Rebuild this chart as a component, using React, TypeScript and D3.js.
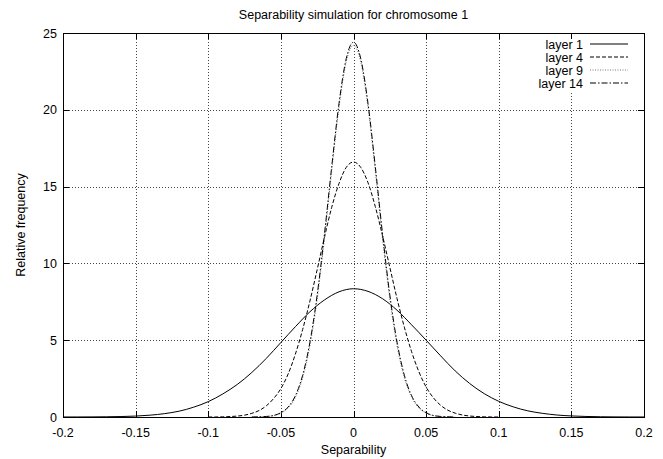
import React from "react";
import * as d3 from "d3";

const W = 663;
const H = 459;
const M = { left: 63, right: 644, top: 33, bottom: 417 };

const xTicks = [-0.2, -0.15, -0.1, -0.05, 0, 0.05, 0.1, 0.15, 0.2];
const xTickLabels = ["-0.2", "-0.15", "-0.1", "-0.05", "0", "0.05", "0.1", "0.15", "0.2"];
const yTicks = [0, 5, 10, 15, 20, 25];
const yTickLabels = ["0", "5", "10", "15", "20", "25"];

const seriesNames = ["layer 1", "layer 4", "layer 9", "layer 14"];

const layer1X = [
  -0.2, -0.19, -0.18, -0.17, -0.16, -0.15, -0.14, -0.13, -0.12, -0.11, -0.1, -0.09, -0.08, -0.07, -0.06, -0.05,
  -0.04, -0.03, -0.02, -0.01, 0, 0.01, 0.02, 0.03, 0.04, 0.05, 0.06, 0.07, 0.08, 0.09, 0.1, 0.11, 0.12, 0.13,
  0.14, 0.15, 0.16, 0.17, 0.18, 0.19, 0.2,
];
const layer1Y = [
  0.001, 0.003, 0.007, 0.015, 0.03, 0.06, 0.12, 0.22, 0.38, 0.64, 1.0, 1.5, 2.12, 2.9, 3.82, 4.85, 5.88, 6.85,
  7.62, 8.15, 8.35, 8.18, 7.7, 6.95, 6.0, 5.0, 3.98, 3.0, 2.18, 1.52, 1.02, 0.66, 0.4, 0.24, 0.13, 0.07, 0.035,
  0.016, 0.007, 0.003, 0.001,
];

const layer4X = [
  -0.1, -0.095, -0.09, -0.085, -0.08, -0.075, -0.07, -0.065, -0.06, -0.055, -0.05, -0.045, -0.04, -0.035, -0.03,
  -0.025, -0.02, -0.015, -0.01, -0.005, 0, 0.005, 0.01, 0.015, 0.02, 0.025, 0.03, 0.035, 0.04, 0.045, 0.05, 0.055,
  0.06, 0.065, 0.07, 0.075, 0.08, 0.085, 0.09, 0.095, 0.1,
];
const layer4Y = [
  0, 0.002, 0.01, 0.03, 0.06, 0.12, 0.24, 0.42, 0.73, 1.2, 1.85, 2.8, 4.1, 5.7, 7.55, 9.6, 11.7, 13.65, 15.2,
  16.25, 16.6, 16.25, 15.25, 13.7, 11.8, 9.75, 7.7, 5.85, 4.25, 2.95, 1.95, 1.25, 0.76, 0.44, 0.25, 0.13, 0.065,
  0.03, 0.01, 0.003, 0,
];

const layer9X = [
  -0.07, -0.065, -0.06, -0.055, -0.05, -0.045, -0.04, -0.035, -0.03, -0.025, -0.02, -0.015, -0.01, -0.005, 0,
  0.005, 0.01, 0.015, 0.02, 0.025, 0.03, 0.035, 0.04, 0.045, 0.05, 0.055, 0.06, 0.065, 0.07,
];
const layer9Y = [
  0, 0.01, 0.03, 0.09, 0.25, 0.59, 1.28, 2.55, 4.63, 7.68, 11.61, 16.01, 20.14, 23.11, 24.2, 23.11, 20.14, 16.01,
  11.61, 7.68, 4.63, 2.55, 1.28, 0.59, 0.25, 0.09, 0.03, 0.01, 0,
];

const layer14X = layer9X;
const layer14Y = [
  0, 0.01, 0.035, 0.1, 0.28, 0.65, 1.39, 2.72, 4.87, 7.95, 11.91, 16.3, 20.4, 23.33, 24.4, 23.33, 20.4, 16.3,
  11.91, 7.95, 4.87, 2.72, 1.39, 0.65, 0.28, 0.1, 0.035, 0.01, 0,
];

const seriesX = [layer1X, layer4X, layer9X, layer14X];
const seriesY = [layer1Y, layer4Y, layer9Y, layer14Y];
const styles = [
  { stroke: "#000", dash: "none", width: 1 },
  { stroke: "#000", dash: "4 2", width: 1 },
  { stroke: "#777", dash: "1 1.5", width: 1 },
  { stroke: "#000", dash: "6 2 1.5 2", width: 1 },
];

const FONT = "'Liberation Sans', Arial, Helvetica, sans-serif";
const FS = 12.5;

export default function App() {
  const x = d3.scaleLinear().domain([-0.2, 0.2]).range([M.left, M.right]);
  const y = d3.scaleLinear().domain([0, 25]).range([M.bottom, M.top]);
  const line = d3
    .line<[number, number]>()
    .x((d) => x(d[0]))
    .y((d) => y(d[1]))
    .curve(d3.curveMonotoneX);

  const tick = 6;
  const legendTextX = 583;
  const legendLine = [590, 628];
  const legendY0 = 44;
  const legendDy = 13;

  return (
    <svg width={W} height={H} style={{ display: "block", position: "absolute", left: 0, top: 0 }} fontFamily={FONT}>
      <rect x={0} y={0} width={W} height={H} fill="#fff" />
      {/* grid */}
      <g stroke="#444" strokeWidth={1} strokeDasharray="1 2" shapeRendering="crispEdges">
        {xTicks.slice(1, -1).map((t, i) => (
          <line key={"gx" + i} x1={Math.round(x(t)) + 0.5} x2={Math.round(x(t)) + 0.5} y1={M.top} y2={M.bottom} />
        ))}
        {yTicks.slice(1, -1).map((t, i) => (
          <line key={"gy" + i} x1={M.left} x2={M.right} y1={Math.round(y(t)) + 0.5} y2={Math.round(y(t)) + 0.5} />
        ))}
      </g>
      {/* legend background */}
      <rect x={520} y={37} width={121} height={54} fill="#fff" />
      {/* ticks */}
      <g stroke="#000" strokeWidth={1} shapeRendering="crispEdges">
        {xTicks.map((t, i) => (
          <g key={"tx" + i}>
            <line x1={Math.round(x(t)) + 0.5} x2={Math.round(x(t)) + 0.5} y1={M.bottom} y2={M.bottom - tick} />
            <line x1={Math.round(x(t)) + 0.5} x2={Math.round(x(t)) + 0.5} y1={M.top} y2={M.top + tick} />
          </g>
        ))}
        {yTicks.map((t, i) => (
          <g key={"ty" + i}>
            <line x1={M.left} x2={M.left + tick} y1={Math.round(y(t)) + 0.5} y2={Math.round(y(t)) + 0.5} />
            <line x1={M.right} x2={M.right - tick} y1={Math.round(y(t)) + 0.5} y2={Math.round(y(t)) + 0.5} />
          </g>
        ))}
      </g>
      {/* curves */}
      <g fill="none">
        {seriesX.map((xs, i) => (
          <path
            key={"s" + i}
            d={line(xs.map((v, j) => [v, seriesY[i][j]] as [number, number])) || ""}
            stroke={styles[i].stroke}
            strokeWidth={styles[i].width}
            strokeDasharray={styles[i].dash}
          />
        ))}
      </g>
      {/* border */}
      <rect
        x={M.left + 0.5}
        y={M.top + 0.5}
        width={M.right - M.left}
        height={M.bottom - M.top}
        fill="none"
        stroke="#000"
        strokeWidth={1}
        shapeRendering="crispEdges"
      />
      {/* tick labels */}
      <g fontSize={FS} fill="#000">
        {xTicks.map((t, i) => (
          <text key={"lx" + i} x={x(t)} y={M.bottom + 20} textAnchor="middle">
            {xTickLabels[i]}
          </text>
        ))}
        {yTicks.map((t, i) => (
          <text key={"ly" + i} x={M.left - 6} y={y(t) + 4.5} textAnchor="end">
            {yTickLabels[i]}
          </text>
        ))}
      </g>
      {/* legend */}
      <g fontSize={FS}>
        {seriesNames.map((n, i) => (
          <g key={"lg" + i}>
            <text x={legendTextX} y={legendY0 + i * legendDy + 4.5} textAnchor="end">
              {n}
            </text>
            <line
              x1={legendLine[0]}
              x2={legendLine[1]}
              y1={legendY0 + i * legendDy}
              y2={legendY0 + i * legendDy}
              stroke={styles[i].stroke}
              strokeWidth={styles[i].width}
              strokeDasharray={styles[i].dash}
            />
          </g>
        ))}
      </g>
      {/* titles */}
      <text x={(M.left + M.right) / 2} y={19} textAnchor="middle" fontSize={FS}>
        Separability simulation for chromosome 1
      </text>
      <text x={(M.left + M.right) / 2} y={454} textAnchor="middle" fontSize={FS}>
        Separability
      </text>
      <text transform={`translate(25, ${(M.top + M.bottom) / 2}) rotate(-90)`} textAnchor="middle" fontSize={FS}>
        Relative frequency
      </text>
    </svg>
  );
}
